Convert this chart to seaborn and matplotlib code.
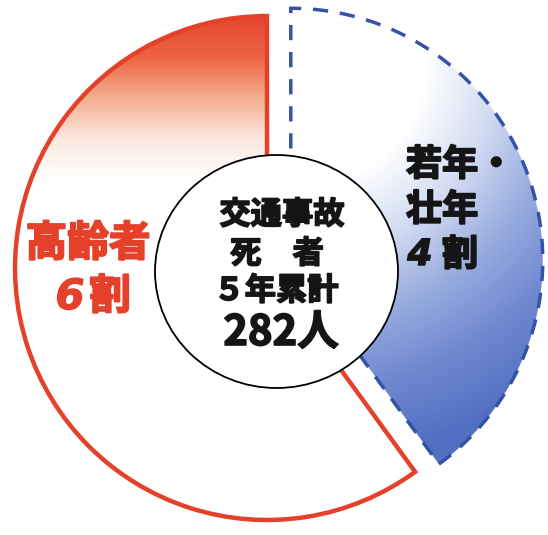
import matplotlib
matplotlib.use("Agg")
import matplotlib.pyplot as plt
import matplotlib.patches as mpatches
import matplotlib.patheffects as pe
import numpy as np
import seaborn as sns

# data
shares = [60, 40]
group_labels = ["高齢者", "若年・\n壮年"]
share_digits = ["6", "4"]
share_unit = "割"
center_lines = ["交通事故", "死　者", "５年累計", "282人"]

W, H = 548, 535
RED = "#e5412a"
BLUE_EDGE = "#3452a6"
INK = "#151515"

sns.set_theme(style="white")
plt.rcParams["font.family"] = ["Noto Sans CJK JP", "DejaVu Sans"]


def py(y):
    # pixel row (from top) -> data y
    return H - y


def heavy(color, w=1.2):
    return [pe.withStroke(linewidth=w, foreground=color)]


fig = plt.figure(figsize=(W / 100, H / 100), dpi=100)
ax = fig.add_axes([0, 0, 1, 1])

wedges, _ = ax.pie(
    shares,
    startangle=90,
    counterclock=True,
    radius=252,
    center=(267, py(268)),
    explode=[0, 25],
    wedgeprops=dict(facecolor="none"),
)
ax.set_xlim(0, W)
ax.set_ylim(0, H)
ax.axis("off")

red_w, blue_w = wedges
red_w.set(edgecolor=RED, linewidth=3.2, joinstyle="miter", zorder=3)
blue_w.set(edgecolor=BLUE_EDGE, linewidth=2.5, linestyle=(0, (4.4, 3.4)), zorder=3)

# gradient fills clipped to the wedges
yy, xx = np.mgrid[0:H, 0:W].astype(float)

red_cmap = sns.blend_palette(["#e5462b", "#ec6444", "#f4ae90", "#fce8e0", "white"], as_cmap=True)
t_red = np.clip((yy - 15) / 165.0, 0, 1)
im_r = ax.imshow(red_cmap(t_red), extent=(0, W, 0, H), origin="upper", zorder=1)
im_r.set_clip_path(red_w)

blue_cmap = sns.blend_palette(["white", "#d3dcf2", "#98acdf", "#7088d0", "#5270c2"], as_cmap=True)
d = np.hypot(xx - 300, yy - 60)
t_blue = np.clip((d - 125) / 275.0, 0, 1)
im_b = ax.imshow(blue_cmap(t_blue), extent=(0, W, 0, H), origin="upper", zorder=1)
im_b.set_clip_path(blue_w)

# center disc
disc = mpatches.Ellipse((276.5, py(271.5)), 243, 233, facecolor="white",
                        edgecolor="black", linewidth=1.3, zorder=5)
ax.add_patch(disc)

# center text
line_y = [215, 254, 291, 333]
line_size = [22.5, 22.5, 22.5, 30]
line_x = [282, 277, 276, 281]
for txt, x, y, s in zip(center_lines, line_x, line_y, line_size):
    ax.text(x, py(y), txt, ha="center", va="center", fontsize=s,
            fontweight="bold", color=INK, zorder=6, path_effects=heavy(INK))

# left label (elderly)
ax.text(88, py(244), group_labels[0], ha="center", va="center", fontsize=30,
        fontweight="bold", color=RED, zorder=6, path_effects=heavy(RED, 1.4))
ax.text(70, py(297), share_digits[0], ha="center", va="center", fontsize=30,
        fontweight="bold", style="oblique", family="DejaVu Sans", color=RED,
        zorder=6, path_effects=heavy(RED, 1.0))
ax.text(110, py(297), share_unit, ha="center", va="center", fontsize=30,
        fontweight="bold", color=RED, zorder=6, path_effects=heavy(RED, 1.4))

# right label (young / middle-aged)
first, second = group_labels[1].split("\n")
for txt, y in zip([first, second], [165, 210]):
    ax.text(406, py(y), txt, ha="left", va="center", fontsize=26,
            fontweight="bold", color=INK, zorder=6, path_effects=heavy(INK, 1.4))
ax.text(420, py(255), share_digits[1], ha="center", va="center", fontsize=26,
        fontweight="bold", style="oblique", family="DejaVu Sans", color=INK,
        zorder=6, path_effects=heavy(INK, 1.0))
ax.text(460, py(255), share_unit, ha="center", va="center", fontsize=26,
        fontweight="bold", color=INK, zorder=6, path_effects=heavy(INK, 1.4))

fig.savefig("out.png", dpi=100, facecolor="white")
